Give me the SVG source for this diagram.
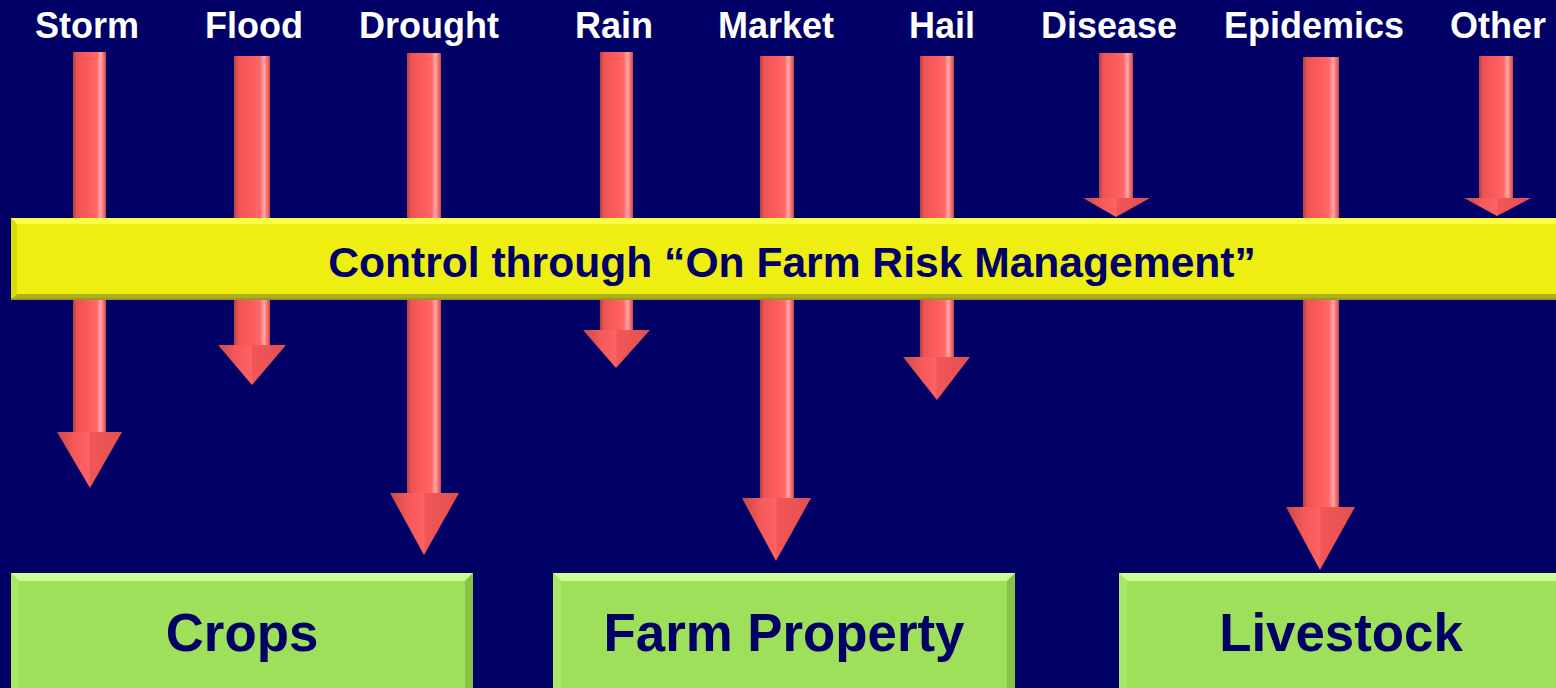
<svg xmlns="http://www.w3.org/2000/svg" width="1556" height="688" viewBox="0 0 1556 688">
<style>
.lbl{font-family:"Liberation Sans",Arial,sans-serif;font-weight:bold;font-size:36px;fill:#ffffff;text-anchor:middle}
.ctl{font-family:"Liberation Sans",Arial,sans-serif;font-weight:bold;font-size:42.6px;fill:#000066;text-anchor:middle}
.box{font-family:"Liberation Sans",Arial,sans-serif;font-weight:bold;font-size:52.8px;fill:#000066;text-anchor:middle}
.shaft{fill:url(#shaftG)}
.head{fill:url(#headG)}
.gMain{fill:#9EE05A}.gTop{fill:#CCFF99}.gL{fill:#A8E868}.gR{fill:#86C448}.gB{fill:#78AE3E}
.yMain{fill:#EEEE11}.yTop{fill:#FFFF44}.yL{fill:#DADA10}.yR{fill:#C8C818}.yB{fill:#B0B020}
</style>
<defs>
<linearGradient id="shaftG" x1="0" y1="0" x2="1" y2="0">
<stop offset="0" stop-color="#B04040"/>
<stop offset="0.12" stop-color="#EE5454"/>
<stop offset="0.5" stop-color="#FF5C5C"/>
<stop offset="0.72" stop-color="#FF6868"/>
<stop offset="0.84" stop-color="#FFA8A8"/>
<stop offset="0.94" stop-color="#F26262"/>
<stop offset="1" stop-color="#C84848"/>
</linearGradient>
<linearGradient id="headG" x1="0" y1="0" x2="1" y2="0">
<stop offset="0" stop-color="#C84848"/>
<stop offset="0.25" stop-color="#F45858"/>
<stop offset="0.49" stop-color="#FF6262"/>
<stop offset="0.51" stop-color="#F25656"/>
<stop offset="1" stop-color="#E25050"/>
</linearGradient>
</defs>
<rect x="0" y="0" width="1556" height="688" fill="#000066"/>

<g id="labels">
<g id="n-storm"><text class="lbl" x="87" y="38">Storm</text></g>
<g id="n-flood"><text class="lbl" x="254" y="38">Flood</text></g>
<g id="n-drought"><text class="lbl" x="429" y="38">Drought</text></g>
<g id="n-rain"><text class="lbl" x="614" y="38">Rain</text></g>
<g id="n-market"><text class="lbl" x="776" y="38">Market</text></g>
<g id="n-hail"><text class="lbl" x="942" y="38">Hail</text></g>
<g id="n-disease"><text class="lbl" x="1109" y="38">Disease</text></g>
<g id="n-epidemics"><text class="lbl" x="1314" y="38">Epidemics</text></g>
<g id="n-other"><text class="lbl" x="1498" y="38">Other</text></g>
</g>

<g id="connectors">
<g id="a-storm"><rect class="shaft" x="73" y="52" width="33" height="381"/><polygon class="head" points="57,432 122,432 90,488"/></g>
<g id="a-flood"><rect class="shaft" x="234" y="56" width="36" height="290"/><polygon class="head" points="218,345 286,345 252,385"/></g>
<g id="a-drought"><rect class="shaft" x="407" y="53" width="34" height="441"/><polygon class="head" points="390,493 459,493 424,555"/></g>
<g id="a-rain"><rect class="shaft" x="600" y="52" width="33" height="279"/><polygon class="head" points="583,330 650,330 616,368"/></g>
<g id="a-market"><rect class="shaft" x="760" y="56" width="34" height="443"/><polygon class="head" points="742,498 811,498 776,561"/></g>
<g id="a-hail"><rect class="shaft" x="920" y="56" width="34" height="302"/><polygon class="head" points="903,357 970,357 937,400"/></g>
<g id="a-disease"><rect class="shaft" x="1099" y="53" width="34" height="146"/><polygon class="head" points="1083,198 1150,198 1116,217"/></g>
<g id="a-epidemics"><rect class="shaft" x="1303" y="57" width="36" height="451"/><polygon class="head" points="1286,507 1355,507 1320,570"/></g>
<g id="a-other"><rect class="shaft" x="1479" y="56" width="34" height="143"/><polygon class="head" points="1464,198 1531,198 1497,216"/></g>
</g>

<g id="n-control">
<rect class="yMain" x="11" y="218" width="1560" height="82"/>
<polygon class="yTop" points="11,218 1571,218 1565,224 17,224"/>
<polygon class="yL" points="11,218 17,224 17,294 11,300"/>
<polygon class="yB" points="11,300 17,294 1565,294 1571,300"/>
<rect x="11" y="298" width="1560" height="2" fill="#9A9A1A"/>
<text class="ctl" x="792" y="277">Control through “On Farm Risk Management”</text>
</g>

<g id="n-crops">
<rect class="gMain" x="11" y="573" width="462" height="120"/>
<polygon class="gTop" points="11,573 473,573 465,581 19,581"/>
<polygon class="gL" points="11,573 19,581 19,688 11,688"/>
<polygon class="gR" points="473,573 465,581 465,688 473,688"/>
<text class="box" x="242" y="651">Crops</text>
</g>
<g id="n-property">
<rect class="gMain" x="553" y="573" width="462" height="120"/>
<polygon class="gTop" points="553,573 1015,573 1007,581 561,581"/>
<polygon class="gL" points="553,573 561,581 561,688 553,688"/>
<polygon class="gR" points="1015,573 1007,581 1007,688 1015,688"/>
<text class="box" x="784" y="651">Farm Property</text>
</g>
<g id="n-livestock">
<rect class="gMain" x="1119" y="573" width="460" height="120"/>
<polygon class="gTop" points="1119,573 1579,573 1571,581 1127,581"/>
<polygon class="gL" points="1119,573 1127,581 1127,688 1119,688"/>
<text class="box" x="1341" y="651">Livestock</text>
</g>
</svg>
